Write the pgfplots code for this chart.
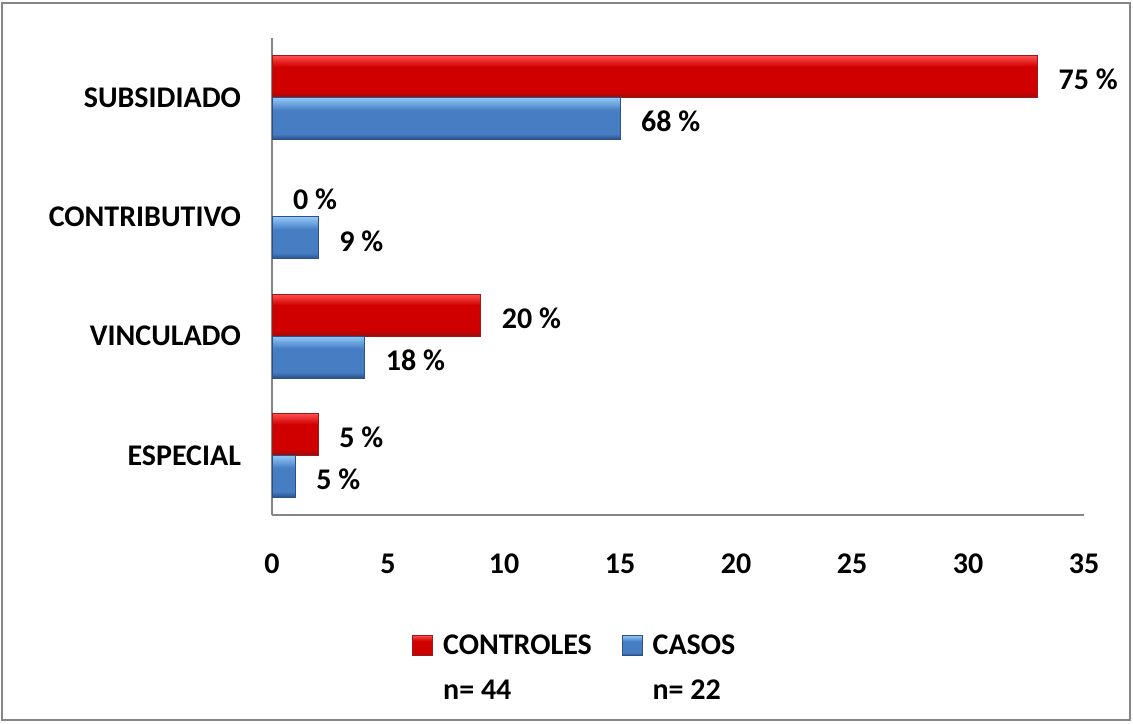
\documentclass[border=0pt]{standalone}
\usepackage{fontspec}
\setmainfont{Carlito}
\usepackage{pgfplots}
\pgfplotsset{compat=1.18}

\definecolor{rtop}{RGB}{255,80,80}
\definecolor{rmid}{RGB}{208,0,0}
\definecolor{rbot}{RGB}{150,15,15}
\definecolor{redge}{RGB}{160,25,25}
\definecolor{btop}{RGB}{145,200,248}
\definecolor{bmid}{RGB}{70,125,195}
\definecolor{bbot}{RGB}{40,78,135}
\definecolor{bedge}{RGB}{45,80,135}
\definecolor{axgray}{RGB}{134,134,134}

\pgfdeclareverticalshading{redshade}{100bp}{color(0bp)=(rbot); color(25bp)=(rbot); color(32bp)=(rmid); color(62bp)=(rmid); color(75bp)=(rtop); color(100bp)=(rtop)}
\pgfdeclareverticalshading{blueshade}{100bp}{color(0bp)=(bbot); color(25bp)=(bbot); color(32bp)=(bmid); color(60bp)=(bmid); color(75bp)=(btop); color(100bp)=(btop)}

\newcommand{\lblfont}{\fontsize{15}{18}\selectfont\bfseries}

\begin{document}
\begin{tikzpicture}
\useasboundingbox (0pt,0pt) rectangle (566.5pt,361.5pt);
\draw[axgray, line width=0.6pt] (1pt,1.5pt) rectangle (565pt,360pt);
\begin{axis}[
  at={(136pt,104pt)}, anchor=south west,
  scale only axis, width=406pt, height=238.5pt,
  xbar, bar width=21pt,
  xmin=0, xmax=35, ymin=-0.5, ymax=3.5,
  xtick={0,5,...,35},
  ytick={0,1,2,3},
  yticklabels={ESPECIAL,VINCULADO,CONTRIBUTIVO,SUBSIDIADO},
  axis x line*=bottom, axis y line*=left,
  axis line style={draw=axgray, line width=0.8pt, -},
  major tick length=0pt,
  /pgf/number format/assume math mode=true,
  ticklabel style={font=\lblfont},
  yticklabel style={xshift=-12pt},
  xticklabel style={yshift=-16pt},
  nodes near coords,
  point meta=explicit symbolic,
  every node near coord/.append style={font=\lblfont, anchor=west, xshift=7pt, yshift=-1.5pt, text=black},
  legend columns=2,
  legend style={at={(axis description cs:0.165,-0.222)}, anchor=north west, draw=none, fill=none,
    font=\lblfont, cells={anchor=base west},
    /tikz/every even column/.append style={column sep=13pt}},
  legend image code/.code={\draw[#1] (0pt,-0.5pt) rectangle (10pt,9.5pt);},
  redbar/.style={bar shift=10.5pt, draw=redge, line width=0.4pt, shade, shading=redshade},
  bluebar/.style={bar shift=-10.5pt, draw=bedge, line width=0.4pt, shade, shading=blueshade},
  clip=false,
]
% CONTROLES (n = 44)
\addplot[redbar] coordinates {(33,3) [75 \%]};
\addlegendentry{\begin{tabular}[t]{@{\hspace{3pt}}l@{}}CONTROLES\\[4.5pt] n= 44\end{tabular}}
% CASOS (n = 22)
\addplot[bluebar] coordinates {(15,3) [68 \%]};
\addlegendentry{\begin{tabular}[t]{@{\hspace{3pt}}l@{}}CASOS\\[4.5pt] n= 22\end{tabular}}
\addplot[forget plot, bar shift=10.5pt, draw=none, fill=none] coordinates {(0,2) [0 \%]};
\addplot[forget plot, redbar] coordinates {(9,1) [20 \%]};
\addplot[forget plot, redbar] coordinates {(2,0) [5 \%]};
\addplot[forget plot, bluebar] coordinates {(2,2) [9 \%]};
\addplot[forget plot, bluebar] coordinates {(4,1) [18 \%]};
\addplot[forget plot, bluebar] coordinates {(1,0) [5 \%]};
\end{axis}
\end{tikzpicture}
\end{document}
